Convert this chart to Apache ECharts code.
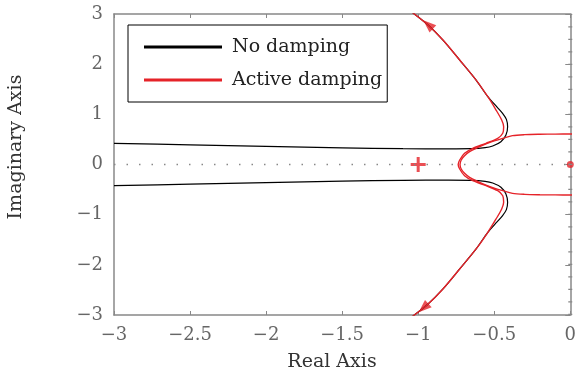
<!DOCTYPE html>
<html>
<head>
<meta charset="utf-8">
<script src="https://cdn.jsdelivr.net/npm/echarts@6/dist/echarts.min.js"></script>
<style>html,body{margin:0;padding:0;background:#fff;}#c{width:579px;height:374px;}</style>
</head>
<body>
<div id="c"></div>
<script>
// ---- data ----
const xTicks = [-3, -2.5, -2, -1.5, -1, -0.5, 0];
const yTicks = [-3, -2, -1, 0, 1, 2, 3];

// No damping: upper and lower branches
const noDampUpper = [[-3,0.422],[-2.5,0.392],[-2,0.362],[-1.5,0.333],[-1.1,0.315],[-0.8,0.313],[-0.65,0.316],
  [-0.56,0.335],[-0.51,0.369],[-0.456,0.454],[-0.423,0.588],[-0.412,0.753],[-0.42,0.90],[-0.445,1.02],
  [-0.48,1.14],[-0.542,1.351],[-0.619,1.683],[-0.727,2.082],[-0.837,2.48],[-0.935,2.78],[-1.047,3.05]];
const noDampLower = [[-3,-0.422],[-2.5,-0.392],[-2,-0.362],[-1.5,-0.333],[-1.1,-0.315],[-0.8,-0.313],[-0.65,-0.316],
  [-0.56,-0.335],[-0.51,-0.369],[-0.456,-0.454],[-0.423,-0.588],[-0.412,-0.753],[-0.42,-0.90],[-0.445,-1.02],
  [-0.48,-1.14],[-0.542,-1.351],[-0.619,-1.683],[-0.727,-2.082],[-0.837,-2.48],[-0.935,-2.78],[-1.047,-3.05]];

// Active damping: branch to +/- infinity through the breakaway point
const activeOuter = [[-1.047,3.05],[-0.935,2.78],[-0.837,2.48],[-0.727,2.082],[-0.619,1.683],[-0.542,1.351],
  [-0.488,1.086],[-0.451,0.886],[-0.438,0.753],[-0.444,0.622],[-0.477,0.522],[-0.554,0.422],[-0.641,0.323],
  [-0.695,0.223],[-0.727,0.09],[-0.737,0],
  [-0.727,-0.09],[-0.695,-0.223],[-0.641,-0.323],[-0.554,-0.422],[-0.477,-0.522],[-0.444,-0.622],
  [-0.438,-0.753],[-0.451,-0.886],[-0.488,-1.086],[-0.542,-1.351],[-0.619,-1.683],[-0.727,-2.082],
  [-0.837,-2.48],[-0.935,-2.78],[-1.047,-3.05]];
// Active damping: loop coming from the imaginary axis
const activeLoop = [[0.02,0.608],[-0.1,0.606],[-0.2,0.603],[-0.3,0.595],[-0.38,0.575],[-0.444,0.522],
  [-0.5,0.47],[-0.554,0.41],[-0.61,0.335],[-0.662,0.255],[-0.695,0.175],[-0.717,0.09],[-0.725,0],
  [-0.717,-0.09],[-0.695,-0.175],[-0.662,-0.255],[-0.61,-0.335],[-0.554,-0.41],[-0.5,-0.47],
  [-0.444,-0.522],[-0.38,-0.575],[-0.3,-0.595],[-0.2,-0.603],[-0.1,-0.606],[0.02,-0.608]];

const poleMarks = [[-1, 0]];
const zeroMarks = [[0, 0]];
const arrowUp = [[-0.935, 2.79]];
const arrowDown = [[-0.965, -2.86]];
const realAxisLine = [[-3, 0], [0, 0]];
const imagAxisLine = [[0, -3], [0, 3]];

const RED = '#e52329';
const FONT = 'DejaVu Serif';
const fmt = v => String(v).replace('-', '\u2212');
const ARROW = 'path://M0,0L5,13L-5,13Z';

const chart = echarts.init(document.getElementById('c'), null, {renderer: 'canvas'});
chart.setOption({
  animation: false,
  backgroundColor: '#fff',
  grid: {left: 114, top: 14, right: 6, bottom: 59},
  legend: {
    data: ['No damping', 'Active damping'],
    orient: 'vertical', left: 128, top: 25,
    padding: [12, 5, 12, 16], itemGap: 13,
    itemWidth: 78, itemHeight: 3, icon: 'rect',
    borderColor: '#000', borderWidth: 1, backgroundColor: '#fff',
    textStyle: {fontFamily: FONT, fontSize: 19, color: '#222', lineHeight: 20, padding: [0,0,0,5]}
  },
  xAxis: [{
    type: 'value', min: -3, max: 0, interval: 0.5, position: 'bottom',
    axisLine: {show: true, onZero: false, lineStyle: {color: '#888', width: 1.5}},
    axisTick: {show: true, inside: true, length: 4, lineStyle: {color: '#888'}},
    axisLabel: {fontFamily: FONT, fontSize: 18, color: '#666', margin: 11, formatter: fmt},
    splitLine: {show: false}
  }, {
    type: 'value', min: -3, max: 0, interval: 0.5, position: 'top',
    axisLine: {show: true, onZero: false, lineStyle: {color: '#888', width: 1.5}},
    axisTick: {show: true, inside: true, length: 4, lineStyle: {color: '#888'}},
    axisLabel: {show: false}, splitLine: {show: false}
  }],
  yAxis: [{
    type: 'value', min: -3, max: 3, interval: 1, position: 'left',
    axisLine: {show: true, onZero: false, lineStyle: {color: '#888', width: 1.5}},
    axisTick: {show: false},
    axisLabel: {fontFamily: FONT, fontSize: 18, color: '#666', margin: 11, formatter: fmt},
    splitLine: {show: false}
  }, {
    type: 'value', min: -3, max: 3, interval: 1, position: 'right',
    axisLine: {show: true, onZero: false, lineStyle: {color: '#888', width: 1.5}},
    axisTick: {show: true, inside: true, length: 5, lineStyle: {color: '#888'}},
    axisLabel: {show: false}, splitLine: {show: false}
  }],
  graphic: [
    {type: 'text', x: 332, y: 362, style: {text: 'Real Axis', font: '19px "DejaVu Serif"', fill: '#333', align: 'center', verticalAlign: 'middle'}},
    {type: 'text', x: 16, y: 147, rotation: Math.PI / 2, style: {text: 'Imaginary Axis', font: '19px "DejaVu Serif"', fill: '#333', align: 'center', verticalAlign: 'middle'}}
  ],
  series: [
    {type: 'line', data: realAxisLine, symbol: 'none', silent: true,
      lineStyle: {color: '#888', width: 1.6, type: [1.5, 11]}},
    {type: 'line', data: imagAxisLine, symbol: 'none', silent: true,
      lineStyle: {color: '#888', width: 4, type: [1.2, 11.3]}},
    {name: 'No damping', type: 'line', data: noDampUpper, symbol: 'none', smooth: 0.3, color: '#000', lineStyle: {color: '#000', width: 1.2}},
    {name: 'No damping', type: 'line', data: noDampLower, symbol: 'none', smooth: 0.3, color: '#000', lineStyle: {color: '#000', width: 1.2}},
    {name: 'Active damping', type: 'line', data: activeOuter, symbol: 'none', smooth: 0.3, color: RED, lineStyle: {color: RED, width: 1.4}},
    {name: 'Active damping', type: 'line', data: activeLoop, symbol: 'none', smooth: 0.3, color: RED, lineStyle: {color: RED, width: 1.4}},
    {type: 'scatter', data: poleMarks, symbol: 'path://M-1.5,-7.5H1.5V-1.5H7.5V1.5H1.5V7.5H-1.5V1.5H-7.5V-1.5H-1.5Z', symbolSize: 15,
      itemStyle: {color: RED}, silent: true},
    {type: 'scatter', data: zeroMarks, symbol: 'circle', symbolSize: 7, itemStyle: {color: RED}, silent: true},
    {type: 'scatter', data: arrowUp, symbol: ARROW, symbolSize: [10, 13], symbolRotate: 48, itemStyle: {color: RED}, silent: true},
    {type: 'scatter', data: arrowDown, symbol: ARROW, symbolSize: [10, 13], symbolRotate: 132, itemStyle: {color: RED}, silent: true}
  ]
});
</script>
</body>
</html>
